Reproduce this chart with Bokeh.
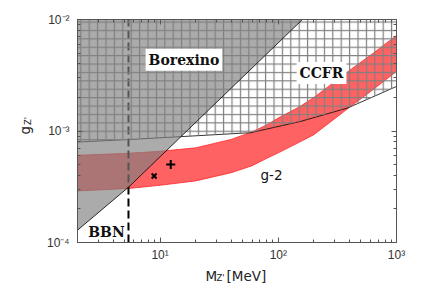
import math
from bokeh.plotting import figure
from bokeh.models import FixedTicker, CustomJSTickFormatter, LogAxis, Label
from bokeh.embed import file_html
from bokeh.resources import INLINE

# ---------------- data ----------------
X_RANGE = (2, 1000)
Y_RANGE = (1e-4, 1e-2)

x_major_ticks = [10, 100, 1000]
x_minor_ticks = [3, 4, 5, 6, 7, 8, 9, 20, 30, 40, 50, 60, 70, 80, 90,
                 200, 300, 400, 500, 600, 700, 800, 900]
y_major_ticks = [1e-4, 1e-3, 1e-2]
y_minor_ticks = [2e-4, 3e-4, 4e-4, 5e-4, 6e-4, 7e-4, 8e-4, 9e-4,
                 2e-3, 3e-3, 4e-3, 5e-3, 6e-3, 7e-3, 8e-3, 9e-3]

# Borexino exclusion boundary (excluded above)
borexino_m = [2.0, 5.4, 160.0]
borexino_g = [1.29e-4, 3.13e-4, 1.0e-2]

# CCFR exclusion boundary (excluded above)
ccfr_m = [2.0, 5.29, 13.1, 58.5, 155.0, 387.0, 1000.0]
ccfr_g = [7.96e-4, 8.37e-4, 8.83e-4, 9.66e-4, 1.22e-3, 1.61e-3, 2.51e-3]

# g-2 favoured band
g2_m = [2, 5.4, 10, 20, 40, 60, 80, 100, 150, 200, 300, 400, 600, 1000]
g2_upper = [6.05e-4, 6.31e-4, 6.58e-4, 7.06e-4, 8.41e-4, 9.82e-4, 1.135e-3, 1.31e-3,
            1.64e-3, 2.00e-3, 2.77e-3, 3.49e-3, 4.76e-3, 7.19e-3]
g2_lower = [2.90e-4, 3.05e-4, 3.26e-4, 3.57e-4, 4.23e-4, 4.88e-4, 5.69e-4, 6.37e-4,
            7.91e-4, 9.27e-4, 1.29e-3, 1.63e-3, 2.25e-3, 3.42e-3]

# BBN bound on the mass
bbn_m = 5.4

# benchmark points
bench_x_m, bench_x_g = [8.9], [3.95e-4]
bench_plus_m, bench_plus_g = [12.3], [5.0e-4]

# ---------------- figure ----------------
p = figure(frame_width=319, frame_height=223,
           x_axis_type="log", y_axis_type="log",
           x_range=X_RANGE, y_range=Y_RANGE,
           output_backend="svg", toolbar_location=None,
           min_border_left=77, min_border_right=32,
           min_border_top=19, min_border_bottom=56)
p.grid.visible = False
p.outline_line_color = "#666666"
p.background_fill_color = "white"

top_vals = [Y_RANGE[1]] * len(ccfr_m)

# g-2 band
p.varea(x=g2_m, y1=g2_lower, y2=g2_upper, fill_color="#ff6262", fill_alpha=1.0)
p.line(g2_m, g2_upper, line_color="#ff2a2a", line_width=0.8)
p.line(g2_m, g2_lower, line_color="#ff2a2a", line_width=0.8)

# BBN dashed line
p.line([bbn_m, bbn_m], [Y_RANGE[0], Y_RANGE[1]], line_color="black",
       line_width=2, line_dash="8 4")

# CCFR boundary line
p.line(ccfr_m, ccfr_g, line_color="black", line_width=0.8)

# Borexino gray region
p.varea(x=borexino_m, y1=borexino_g, y2=[Y_RANGE[1]] * len(borexino_m),
        fill_color="#808080", fill_alpha=0.66)

# CCFR hatched region
p.varea(x=ccfr_m, y1=ccfr_g, y2=top_vals, fill_color=None,
        hatch_pattern="+", hatch_color="#808080", hatch_weight=1.2,
        hatch_scale=8.4, hatch_alpha=1.0)

# Borexino boundary line
p.line(borexino_m, borexino_g, line_color="black", line_width=0.8)

# benchmark markers
p.scatter(bench_x_m, bench_x_g, marker="x", size=7, line_color="black", line_width=2)
p.scatter(bench_plus_m, bench_plus_g, marker="cross", size=9, line_color="black", line_width=2)

# ---------------- axes ----------------
sup_fmt = CustomJSTickFormatter(code="""
const sup = {"-": "\u207b", "0": "\u2070", "1": "\u00b9", "2": "\u00b2", "3": "\u00b3", "4": "\u2074"};
const e = Math.round(Math.log10(tick));
return "10" + String(e).split("").map(c => sup[c]).join("");
""")
empty_fmt = CustomJSTickFormatter(code="return '';")

def style(ax, ticks, minor, labels):
    ax.ticker = FixedTicker(ticks=ticks, minor_ticks=minor)
    ax.major_tick_in = 5
    ax.major_tick_out = 0
    ax.minor_tick_in = 3
    ax.minor_tick_out = 0
    ax.axis_line_color = "#555555"
    ax.major_tick_line_color = "#555555"
    ax.minor_tick_line_color = "#555555"
    if labels:
        ax.formatter = sup_fmt
        ax.major_label_text_font = "Liberation Sans"
        ax.major_label_text_font_size = "12px"
        ax.major_label_text_color = "#333333"
    else:
        ax.formatter = empty_fmt
        ax.major_label_standoff = 0

style(p.xaxis[0], x_major_ticks, x_minor_ticks, True)
style(p.yaxis[0], y_major_ticks, y_minor_ticks, True)
p.xaxis[0].major_label_standoff = 5
p.yaxis[0].major_label_standoff = 8

right_ax = LogAxis()
style(right_ax, y_major_ticks, y_minor_ticks, False)
p.add_layout(right_ax, "right")
top_ax = LogAxis()
style(top_ax, x_major_ticks, x_minor_ticks, False)
p.add_layout(top_ax, "above")

# ---------------- axis titles (side panels, canvas pixel positions) ----------------
def lab(text, x, y, size, side, angle=0.0):
    p.add_layout(Label(x=x, y=y, x_units="canvas", y_units="canvas", text=text,
                       text_font="DejaVu Sans", text_font_size=size,
                       text_color="#222222", text_align="left",
                       text_baseline="alphabetic", angle=angle), side)

lab("M", 205, 275, "13.5px", "below")
lab("Z'", 216, 277.5, "8.5px", "below")
lab("[MeV]", 226, 275, "13.5px", "below")
lab("g", 24, 134, "13.5px", "left", angle=math.pi / 2)
lab("Z'", 27, 124.5, "8.5px", "left", angle=math.pi / 2)

# ---------------- region labels ----------------
def region_label(text, x, y, serif=True, size="14px", box=True):
    kw = dict(x=x, y=y, text=text, text_align="center", text_baseline="middle",
              text_font="DejaVu Serif" if serif else "DejaVu Sans",
              text_font_size=size, text_color="#111111",
              text_font_style="bold" if serif else "normal")
    if box:
        kw.update(background_fill_color="white", background_fill_alpha=1.0, padding=3)
    p.add_layout(Label(**kw))

region_label("Borexino", 15.9, 4.36e-3)
region_label("CCFR", 232, 3.32e-3)
region_label("BBN", 3.52, 1.235e-4, box=False)
region_label("g-2", 87.7, 4.01e-4, serif=False, size="13.5px", box=False)

open("out.html", "w").write(file_html(p, INLINE))
